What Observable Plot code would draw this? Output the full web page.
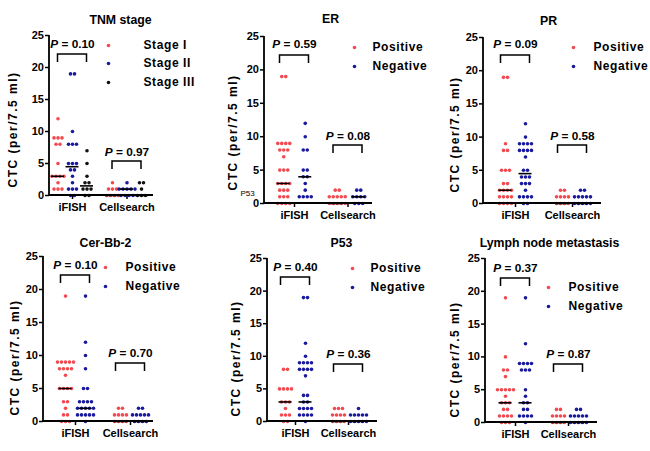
<!DOCTYPE html>
<html><head><meta charset="utf-8">
<script src="https://cdn.jsdelivr.net/npm/d3@7"></script>
<script src="https://cdn.jsdelivr.net/npm/@observablehq/plot@0.6"></script>
<style>
html,body{margin:0;padding:0;background:#fff;}
#chart{position:relative;width:650px;height:451px;overflow:hidden;background:#fff;}
#chart > div{position:absolute;}
</style></head><body><div id="chart"></div>
<script>
// ---------------- data ----------------
const methods = ["iFISH", "Cellsearch"];
const yTicks = [0, 5, 10, 15, 20, 25];
const yLabel = "CTC (per/7.5 ml)";

const tnmTitle = "TNM stage";
const tnmSeries = ["Stage I", "Stage II", "Stage III"];
const tnm_iFISH_I   = [12,9,9,9,8,8,5,3,3,3,3,2,1,1,1];
const tnm_iFISH_II  = [19,19,10,8,8,8,5,5,5,4,4,3,2,1,1,1,0,0];
const tnm_iFISH_III = [7,5,3,2,2,1,1,1,0,0];
const tnm_CS_I   = [2,1,1,1,0,0,0,0];
const tnm_CS_II  = [2,1,1,1,1,1,0,0,0,0];
const tnm_CS_III = [2,2,1,0,0,0];
const tnm_medians = [[3,4.5,1.5],[0,1,0]];
const tnm_p = ["0.10","0.97"];

const posNeg = ["Positive", "Negative"];

const erTitle = "ER";
const er_iFISH_pos = [19,19,9,9,9,9,8,8,8,7,5,5,5,3,3,3,3,2,2,2,1,1,1,0,0,0,0];
const er_iFISH_neg = [12,10,8,8,5,5,4,4,3,2,1,1,1,1];
const er_CS_pos = [2,2,1,1,1,1,1,0,0,0,0,0];
const er_CS_neg = [2,2,1,1,1,1,0,0,0];
const er_medians = [[3,4],[0,1]];
const er_p = ["0.59","0.08"];

const prTitle = "PR";
const pr_iFISH_pos = [19,19,9,8,8,5,5,5,3,3,2,2,2,2,1,1,1,1,0,0,0,0];
const pr_iFISH_neg = [12,10,9,9,9,9,8,8,8,8,7,5,5,4,4,4,3,3,3,2,1,1,1,1,0,0];
const pr_CS_pos = [2,2,1,1,1,1,0,0,0,0];
const pr_CS_neg = [2,2,1,1,1,1,1,0,0,0,0,0];
const pr_medians = [[2,4.5],[0,0]];
const pr_p = ["0.09","0.58"];

const cerTitle = "Cer-Bb-2";
const cer_iFISH_pos = [19,9,9,9,9,9,8,8,8,8,7,5,5,5,5,3,3,2,1,1,0,0,0];
const cer_iFISH_neg = [19,12,10,8,5,5,3,3,3,3,2,2,2,2,2,1,1,1,1,1,0];
const cer_CS_pos = [2,2,1,1,1,1,0,0,0,0];
const cer_CS_neg = [2,2,1,1,1,1,1,0,0,0,0];
const cer_medians = [[5,2],[0,0]];
const cer_p = ["0.10","0.70"];

const p53Title = "P53";
const p53_iFISH_pos = [8,8,5,5,5,5,3,3,3,2,1,1,1,0,0];
const p53_iFISH_neg = [19,19,12,10,9,9,9,9,8,8,8,8,7,4,4,3,3,2,2,2,2,1,1,1,1,0];
const p53_CS_pos = [2,2,2,1,1,1,1,0,0,0,0];
const p53_CS_neg = [2,1,1,1,1,1,0,0,0,0,0];
const p53_medians = [[3,3],[0,0]];
const p53_p = ["0.40","0.36"];

const lnTitle = "Lymph node metastasis";
const ln_iFISH_pos = [19,10,8,8,7,5,5,5,5,5,4,3,3,3,2,2,1,1,1,1,0,0,0];
const ln_iFISH_neg = [19,12,9,9,9,9,8,8,8,5,4,3,3,2,2,1,1,1,1,0];
const ln_CS_pos = [2,2,1,1,1,1,0,0,0,0];
const ln_CS_neg = [2,2,1,1,1,1,1,0,0,0,0,0];
const ln_medians = [[3,3],[0,0]];
const ln_p = ["0.37","0.87"];

const strayLabel = "P53"; // stray label visible in the ER panel of the original

// ---------------- styles / layout ----------------
const RED = "#f24a50", BLUE = "#1a1a9e", BLACK = "#111";
const FONT = "Arial, 'Liberation Sans', Helvetica, sans-serif";
const DOT_GAP = 4, DOT_R = 1.8, MED_HW = 6.5, BR_HW = 14.5, BR_LEG = 8;

const layouts = [
 {ox:0,   oy:0,   w:215, h:225, m:[35,62,30,49], c:[72,126.5], sub:14.5, title:[120,20], leg:[108,143,[45,63,82]], ylab:[13,129], pt:[9,117], br:[19,126]},
 {ox:215, oy:0,   w:215, h:225, m:[36,58,22,49], c:[79,132.5], sub:21.5, title:[115,19], leg:[139,157,[47,66]], ylab:[18,132], pt:[8,100], br:[19,109], stray:[25,193]},
 {ox:430, oy:0,   w:220, h:225, m:[37,49,22,53], c:[85,142],    sub:20,   title:[118,21], leg:[143,163,[47,66]], ylab:[25,134], pt:[7,99],  br:[18,108]},
 {ox:0,   oy:225, w:215, h:226, m:[31,62,30,43], c:[75,130],    sub:20,   title:[105,18], leg:[105,125,[42,61]], ylab:[15,132], pt:[9,97],  br:[19,107]},
 {ox:215, oy:225, w:215, h:226, m:[33,53,30,52], c:[80,133],    sub:20,   title:[126,18], leg:[137,155,[43,62]], ylab:[21,133], pt:[9,96],  br:[19,106]},
 {ox:430, oy:225, w:220, h:226, m:[33,53,29,55], c:[85,138],    sub:20,   title:[119,18], leg:[118,138,[62,81]], ylab:[25,134], pt:[10,96], br:[20,106]},
];

const panels = [
 {title: tnmTitle, series: tnmSeries, colors: [RED, BLUE, BLACK],
  data: [[tnm_iFISH_I, tnm_iFISH_II, tnm_iFISH_III], [tnm_CS_I, tnm_CS_II, tnm_CS_III]], medians: tnm_medians, p: tnm_p},
 {title: erTitle, series: posNeg, colors: [RED, BLUE],
  data: [[er_iFISH_pos, er_iFISH_neg], [er_CS_pos, er_CS_neg]], medians: er_medians, p: er_p},
 {title: prTitle, series: posNeg, colors: [RED, BLUE],
  data: [[pr_iFISH_pos, pr_iFISH_neg], [pr_CS_pos, pr_CS_neg]], medians: pr_medians, p: pr_p},
 {title: cerTitle, series: posNeg, colors: [RED, BLUE],
  data: [[cer_iFISH_pos, cer_iFISH_neg], [cer_CS_pos, cer_CS_neg]], medians: cer_medians, p: cer_p},
 {title: p53Title, series: posNeg, colors: [RED, BLUE],
  data: [[p53_iFISH_pos, p53_iFISH_neg], [p53_CS_pos, p53_CS_neg]], medians: p53_medians, p: p53_p},
 {title: lnTitle, series: posNeg, colors: [RED, BLUE],
  data: [[ln_iFISH_pos, ln_iFISH_neg], [ln_CS_pos, ln_CS_neg]], medians: ln_medians, p: ln_p},
];

// beeswarm-style horizontal spreading of equal values within one column
function swarm(values, g, s, k, L) {
  const span = L.c[1] - L.c[0];
  const counts = d3.rollup(values, v => v.length, d => d);
  const seen = new Map();
  const subOff = (s - (k - 1) / 2) * L.sub;
  return values.map(v => {
    const n = counts.get(v), i = seen.get(v) || 0;
    seen.set(v, i + 1);
    return {g, s, v, x: g + (subOff + (i - (n - 1) / 2) * DOT_GAP) / span};
  });
}

function decor(L) {
  return (index, scales, values, dim) => {
    const {marginLeft: ml, marginTop: mt, marginRight: mr, marginBottom: mb, width: W, height: H} = dim;
    const g = d3.create("svg:g").attr("fill", "none").attr("stroke", "black");
    g.append("path").attr("stroke-width", 1.8).attr("d", `M${ml},${mt}V${H - mb}H${W - mr}`);
    [0, 1].forEach(i => {
      const x = scales.x(i), y = mt + L.br[i];
      g.append("path").attr("stroke-width", 1.5)
        .attr("d", `M${x - BR_HW},${y + BR_LEG}V${y}H${x + BR_HW}V${y + BR_LEG}`);
    });
    return g.node();
  };
}

const root = document.getElementById("chart");

panels.forEach((P, pi) => {
  const L = layouts[pi];
  const [mt, mr, mb, ml] = L.m;
  const k = P.series.length;
  const span = L.c[1] - L.c[0];
  const at = (X, Y) => ({frameAnchor: "top-left", dx: X - ml, dy: Y - mt});

  const marks = [];
  P.data.forEach((groupArrs, g) => {
    groupArrs.forEach((vals, s) => {
      marks.push(Plot.dot(swarm(vals, g, s, k, L), {x: "x", y: "v", r: DOT_R, fill: P.colors[s]}));
    });
  });
  const meds = [];
  P.medians.forEach((row, g) => row.forEach((v, s) => {
    const subOff = (s - (k - 1) / 2) * L.sub;
    meds.push({v, x1: g + (subOff - MED_HW) / span, x2: g + (subOff + MED_HW) / span});
  }));
  marks.push(Plot.ruleY(meds, {y: "v", x1: "x1", x2: "x2", stroke: "black", strokeWidth: 1.6}));
  marks.push(decor(L));
  marks.push(Plot.axisY({ticks: yTicks, tickSize: 4, tickPadding: 1.5, fontSize: 11, strokeWidth: 1.5, label: null}));
  marks.push(Plot.axisX({ticks: [0, 1], tickFormat: i => methods[i], tickSize: 4, tickPadding: 4, fontSize: 11, strokeWidth: 1.5, label: null}));
  marks.push(Plot.text([yLabel], {text: d => d, ...at(L.ylab[0], L.ylab[1]), rotate: -90, textAnchor: "middle", lineAnchor: "middle", fontSize: 12}));
  marks.push(Plot.text([P.title], {text: d => d, ...at(L.title[0], L.title[1]), textAnchor: "middle", lineAnchor: "middle", fontSize: 12.3}));
  P.series.forEach((name, i) => {
    marks.push(Plot.dot([name], {...at(L.leg[0], L.leg[2][i]), r: DOT_R, fill: P.colors[i]}));
    marks.push(Plot.text([name], {text: d => d, ...at(L.leg[1], L.leg[2][i]), textAnchor: "start", lineAnchor: "middle", fontSize: 12}));
  });
  [0, 1].forEach(g => {
    marks.push(Plot.text([{g, p: P.p[g]}], {x: "g", text: d => "P = " + d.p, frameAnchor: "top", dy: L.pt[g], textAnchor: "middle", lineAnchor: "middle", fontSize: 11.8}));
  });
  if (L.stray) {
    marks.push(Plot.text([strayLabel], {text: d => d, ...at(L.stray[0], L.stray[1]), textAnchor: "start", lineAnchor: "middle", fontSize: 8, fontWeight: "normal"}));
  }

  const svg = Plot.plot({
    width: L.w, height: L.h,
    marginTop: mt, marginRight: mr, marginBottom: mb, marginLeft: ml,
    x: {domain: [0, 1], range: [L.c[0], L.c[1]]},
    y: {domain: [0, 25]},
    style: {fontFamily: FONT, fontWeight: "bold", fontSize: "11px", background: "transparent", color: "black", overflow: "visible"},
    marks
  });

  d3.select(svg).selectAll("text").each(function () {
    const t = this.textContent;
    if (t.startsWith("P = ")) {
      const sel = d3.select(this);
      sel.text(null);
      sel.append("tspan").attr("font-style", "italic").text("P");
      sel.append("tspan").text(t.slice(1));
    } else if (t === yLabel) {
      this.setAttribute("letter-spacing", "1.5");
    } else if (P.series.includes(t)) {
      this.setAttribute("letter-spacing", "0.6");
    }
  });

  const div = document.createElement("div");
  div.style.left = L.ox + "px";
  div.style.top = L.oy + "px";
  div.style.width = L.w + "px";
  div.style.height = L.h + "px";
  div.appendChild(svg);
  root.appendChild(div);
});
</script>
</body></html>
